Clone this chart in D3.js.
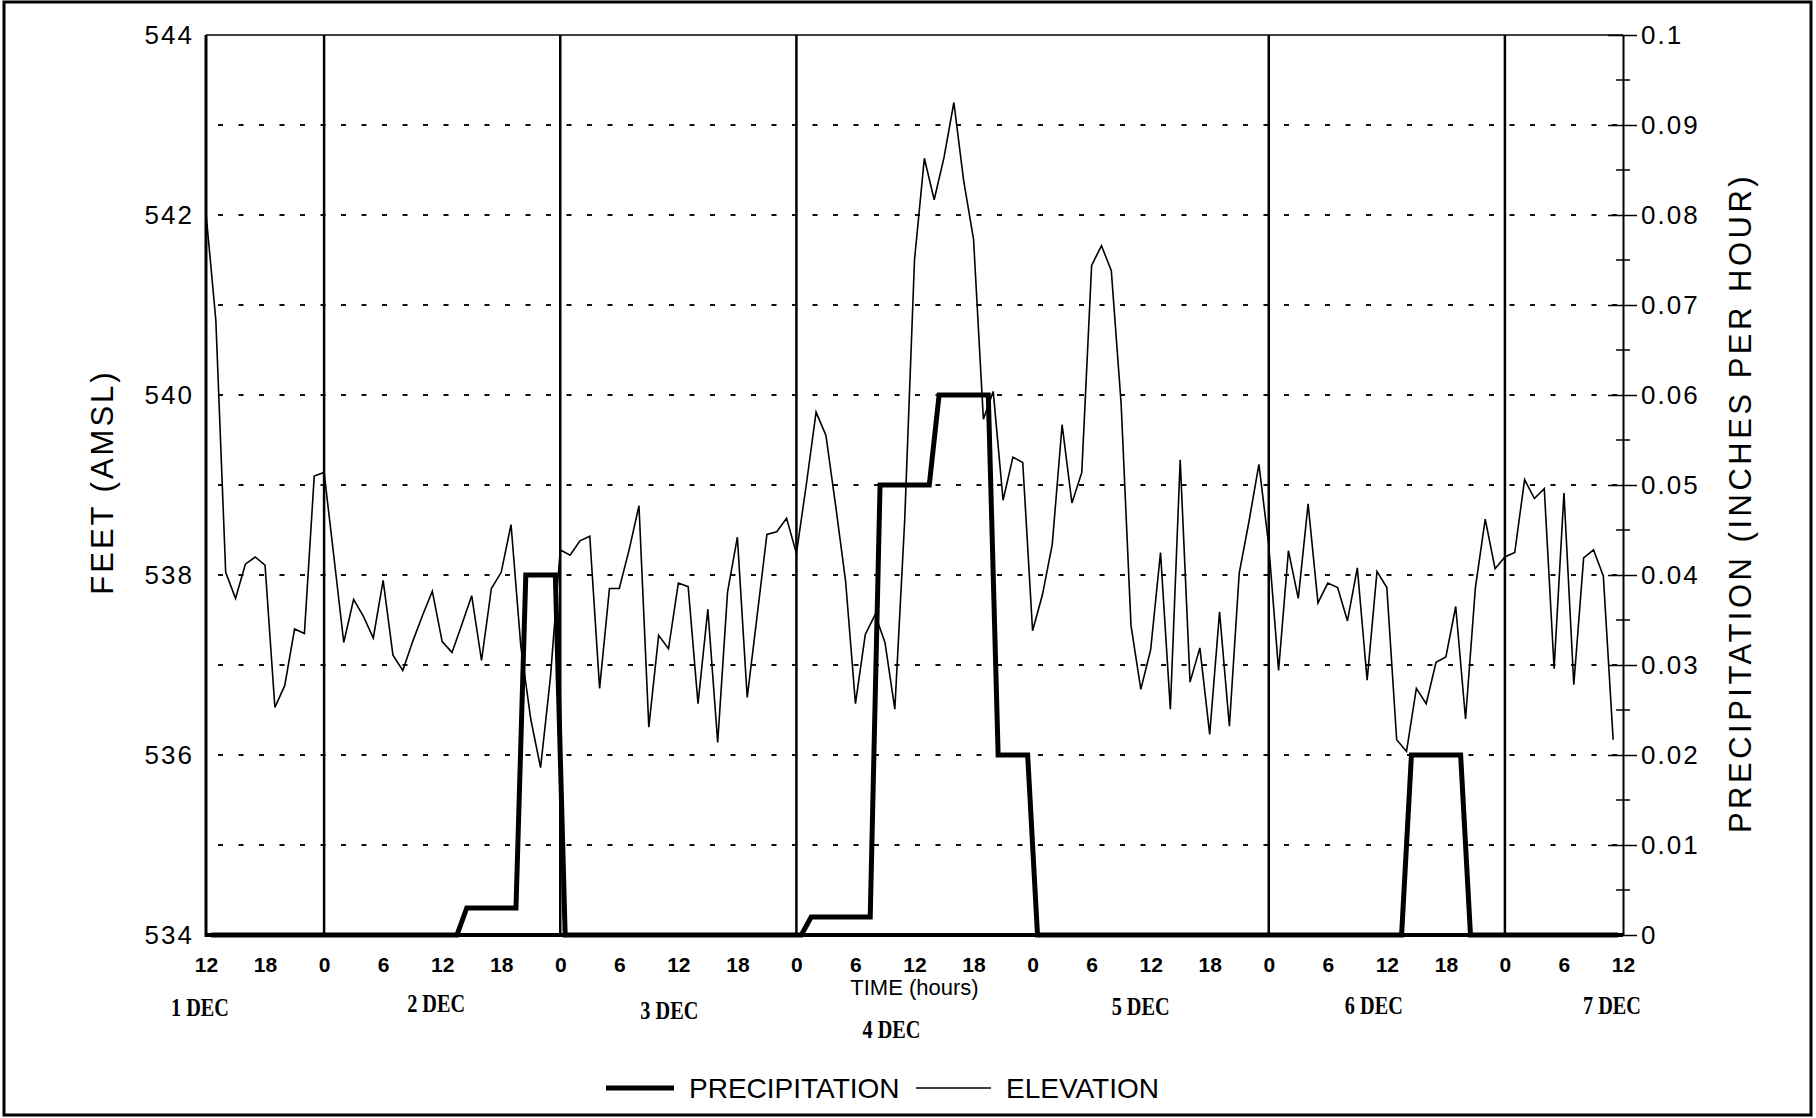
<!DOCTYPE html>
<html><head><meta charset="utf-8">
<script src="https://cdn.jsdelivr.net/npm/d3@7"></script>
<style>
html,body{margin:0;padding:0;background:#fff;}
svg{display:block;}
</style></head><body>
<svg id="chart" width="1816" height="1118"></svg>
<script>
// ---------------- DATA ----------------
// hours counted from 1 DEC 00:00; elevation sampled hourly from hour 12
const elevationStartHour = 12;
const elevation = [
  542.02, 540.83, 538.03, 537.74, 538.12, 538.20, 538.11, 536.53, 536.77, 537.40, 537.35, 539.10,
  539.14, 538.20, 537.25, 537.73, 537.54, 537.30, 537.94, 537.11, 536.94, 537.26, 537.55, 537.82,
  537.26, 537.14, 537.45, 537.77, 537.05, 537.85, 538.03, 538.56, 537.20, 536.40, 535.86, 536.86,
  538.28, 538.22, 538.38, 538.43, 536.74, 537.85, 537.85, 538.28, 538.77, 536.31, 537.33, 537.18,
  537.91, 537.87, 536.57, 537.62, 536.14, 537.81, 538.42, 536.64, 537.54, 538.45, 538.48, 538.63,
  538.24, 539.00, 539.81, 539.55, 538.76, 537.93, 536.57, 537.34, 537.56, 537.25, 536.51, 538.60,
  541.50, 542.63, 542.17, 542.64, 543.25, 542.38, 541.73, 539.73, 540.04, 538.83, 539.31, 539.25,
  537.38, 537.78, 538.34, 539.67, 538.80, 539.14, 541.44, 541.66, 541.38, 539.90, 537.44, 536.73,
  537.17, 538.25, 536.51, 539.28, 536.81, 537.19, 536.23, 537.59, 536.32, 538.02, 538.60, 539.23,
  538.33, 536.94, 538.27, 537.74, 538.79, 537.69, 537.91, 537.86, 537.49, 538.08, 536.83, 538.04,
  537.86, 536.17, 536.04, 536.74, 536.57, 537.03, 537.09, 537.65, 536.40, 537.86, 538.62, 538.07,
  538.20, 538.25, 539.06, 538.85, 538.96, 536.96, 538.91, 536.78, 538.19, 538.28, 537.99, 536.17
];
// hourly precipitation (inches per hour) for hours 12..155, plotted at mid-hour
const precipStartHour = 12;
const precipitation = [
  0, 0, 0, 0, 0, 0, 0, 0, 0, 0, 0, 0,
  0, 0, 0, 0, 0, 0, 0, 0, 0, 0, 0, 0,
  0, 0, 0.003, 0.003, 0.003, 0.003, 0.003, 0.003, 0.04, 0.04, 0.04, 0.04,
  0, 0, 0, 0, 0, 0, 0, 0, 0, 0, 0, 0,
  0, 0, 0, 0, 0, 0, 0, 0, 0, 0, 0, 0,
  0, 0.002, 0.002, 0.002, 0.002, 0.002, 0.002, 0.002, 0.05, 0.05, 0.05, 0.05,
  0.05, 0.05, 0.06, 0.06, 0.06, 0.06, 0.06, 0.06, 0.02, 0.02, 0.02, 0.02,
  0, 0, 0, 0, 0, 0, 0, 0, 0, 0, 0, 0,
  0, 0, 0, 0, 0, 0, 0, 0, 0, 0, 0, 0,
  0, 0, 0, 0, 0, 0, 0, 0, 0, 0, 0, 0,
  0, 0, 0.02, 0.02, 0.02, 0.02, 0.02, 0.02, 0, 0, 0, 0,
  0, 0, 0, 0, 0, 0, 0, 0, 0, 0, 0, 0
];
const dayBoundaryHours = [24, 48, 72, 120, 144];
const hourTicks = [12, 18, 24, 30, 36, 42, 48, 54, 60, 66, 72, 78, 84, 90, 96, 102, 108, 114, 120, 126, 132, 138, 144, 150, 156];
const hourTickLabels = ["12","18","0","6","12","18","0","6","12","18","0","6","12","18","0","6","12","18","0","6","12","18","0","6","12"];
const dayLabels = ["1 DEC", "2 DEC", "3 DEC", "4 DEC", "5 DEC", "6 DEC", "7 DEC"];
const dayLabelHours = [12, 36, 60, 84, 108, 132, 156];
const elevationTicks = [534, 536, 538, 540, 542, 544];
const precipTicks = [0, 0.01, 0.02, 0.03, 0.04, 0.05, 0.06, 0.07, 0.08, 0.09, 0.1];
const seriesNames = ["PRECIPITATION", "ELEVATION"];

// ---------------- LAYOUT ----------------
const W = 1816, H = 1118;
const plot = {left: 206, right: 1623, top: 35, bottom: 935};
const dayLabelDx = [-6, -6, -9, -23, -10, -13, -11];
const dayLabelDy = [2, -2, 5, 24, 1, 0, 0];
const sans = "'Liberation Sans', Arial, Helvetica, sans-serif";
const serif = "'Liberation Serif', 'Times New Roman', serif";

const svg = d3.select("#chart");

const x = d3.scaleLinear().domain([12, 156]).range([plot.left, plot.right]);
const yL = d3.scaleLinear().domain([534, 544]).range([plot.bottom, plot.top]);
const yR = d3.scaleLinear().domain([0, 0.1]).range([plot.bottom, plot.top]);

// outer frame
svg.append("rect").attr("x", 4).attr("y", 2).attr("width", W - 9).attr("height", H - 5)
  .attr("fill", "none").attr("stroke", "#000").attr("stroke-width", 3);

// dashed gridlines every foot
const gridVals = yL.ticks(10).filter(v => v > 534 && v < 544);
svg.append("g").selectAll("line").data(gridVals).join("line")
  .attr("x1", plot.left).attr("x2", plot.right)
  .attr("y1", d => yL(d)).attr("y2", d => yL(d))
  .attr("stroke", "#111").attr("stroke-width", 2).attr("stroke-dasharray", "5,15.5")
  .attr("stroke-dashoffset", -12);

// day boundaries
svg.append("g").selectAll("line").data(dayBoundaryHours).join("line")
  .attr("x1", d => x(d)).attr("x2", d => x(d))
  .attr("y1", plot.top).attr("y2", plot.bottom)
  .attr("stroke", "#000").attr("stroke-width", 2.5);

// elevation line
const elevLine = d3.line().x((d, i) => x(elevationStartHour + i)).y(d => yL(d));
svg.append("path").datum(elevation).attr("d", elevLine)
  .attr("fill", "none").attr("stroke", "#000").attr("stroke-width", 1.6)
  .attr("stroke-linejoin", "miter");

// precipitation line
const precLine = d3.line().x((d, i) => x(precipStartHour + i + 0.5)).y(d => yR(d));
svg.append("path").datum(precipitation).attr("d", precLine)
  .attr("fill", "none").attr("stroke", "#000").attr("stroke-width", 5)
  .attr("stroke-linejoin", "miter").attr("stroke-miterlimit", 10);

// plot frame
svg.append("line").attr("x1", plot.left).attr("x2", plot.right).attr("y1", plot.top).attr("y2", plot.top)
  .attr("stroke", "#000").attr("stroke-width", 1.5);
svg.append("line").attr("x1", plot.left).attr("x2", plot.right).attr("y1", plot.bottom).attr("y2", plot.bottom)
  .attr("stroke", "#000").attr("stroke-width", 4);
svg.append("line").attr("x1", plot.left).attr("x2", plot.left).attr("y1", plot.top).attr("y2", plot.bottom + 2)
  .attr("stroke", "#000").attr("stroke-width", 3);

// left axis
const gL = svg.append("g").attr("transform", `translate(${plot.left},0)`)
  .call(d3.axisLeft(yL).tickValues(elevationTicks).tickSize(0).tickPadding(12).tickFormat(d3.format("d")));
gL.select(".domain").remove();
gL.selectAll("text").attr("font-family", sans).attr("font-size", 26).attr("letter-spacing", 2).attr("fill", "#000");

// right axis
const gR = svg.append("g").attr("transform", `translate(${plot.right},0)`)
  .call(d3.axisRight(yR).tickValues(precipTicks).tickSizeInner(14).tickSizeOuter(0).tickPadding(4)
    .tickFormat(d => String(+d.toFixed(2))));
gR.select(".domain").attr("stroke-width", 2);
gR.selectAll(".tick line").attr("x1", -15).attr("stroke-width", 1.5);
gR.selectAll("text").attr("font-family", sans).attr("font-size", 26).attr("letter-spacing", 2).attr("fill", "#000");
const minorVals = yR.ticks(20).filter(v => Math.round(v * 1000) % 10 !== 0);
gR.append("g").selectAll("line").data(minorVals).join("line")
  .attr("x1", -7).attr("x2", 7).attr("y1", d => yR(d)).attr("y2", d => yR(d))
  .attr("stroke", "#000").attr("stroke-width", 1.5);

// bottom axis labels
const gB = svg.append("g").attr("transform", `translate(0,${plot.bottom})`)
  .call(d3.axisBottom(x).tickValues(hourTicks).tickSize(0).tickPadding(22)
    .tickFormat((d, i) => hourTickLabels[i]));
gB.select(".domain").remove();
gB.selectAll("text").attr("font-family", sans).attr("font-size", 21).attr("font-weight", "bold").attr("fill", "#000");

// TIME title
svg.append("text").attr("x", x(84)).attr("y", 995).attr("text-anchor", "middle")
  .attr("font-family", sans).attr("font-size", 22).text("TIME (hours)");

// day labels
svg.append("g").selectAll("text").data(dayLabels).join("text")
  .attr("x", (d, i) => x(dayLabelHours[i]) + dayLabelDx[i])
  .attr("y", (d, i) => 1014 + dayLabelDy[i])
  .attr("text-anchor", "middle").attr("font-family", serif).attr("font-weight", "bold")
  .attr("font-size", 25).attr("textLength", 58).attr("lengthAdjust", "spacingAndGlyphs")
  .text(d => d);

// axis titles
svg.append("text").attr("transform", "translate(113,482) rotate(-90)")
  .attr("text-anchor", "middle").attr("font-family", sans).attr("font-size", 31)
  .attr("letter-spacing", 3).text("FEET (AMSL)");
svg.append("text").attr("transform", "translate(1751,503) rotate(-90)")
  .attr("text-anchor", "middle").attr("font-family", sans).attr("font-size", 31)
  .attr("letter-spacing", 3.5).text("PRECIPITATION (INCHES PER HOUR)");

// legend
const lg = svg.append("g");
lg.append("line").attr("x1", 606).attr("x2", 674).attr("y1", 1088).attr("y2", 1088)
  .attr("stroke", "#000").attr("stroke-width", 5);
lg.append("text").attr("x", 689).attr("y", 1098).attr("font-family", sans).attr("font-size", 28).text(seriesNames[0]);
lg.append("line").attr("x1", 916).attr("x2", 991).attr("y1", 1088).attr("y2", 1088)
  .attr("stroke", "#000").attr("stroke-width", 1.5);
lg.append("text").attr("x", 1006).attr("y", 1098).attr("font-family", sans).attr("font-size", 28).text(seriesNames[1]);
</script>
</body></html>
